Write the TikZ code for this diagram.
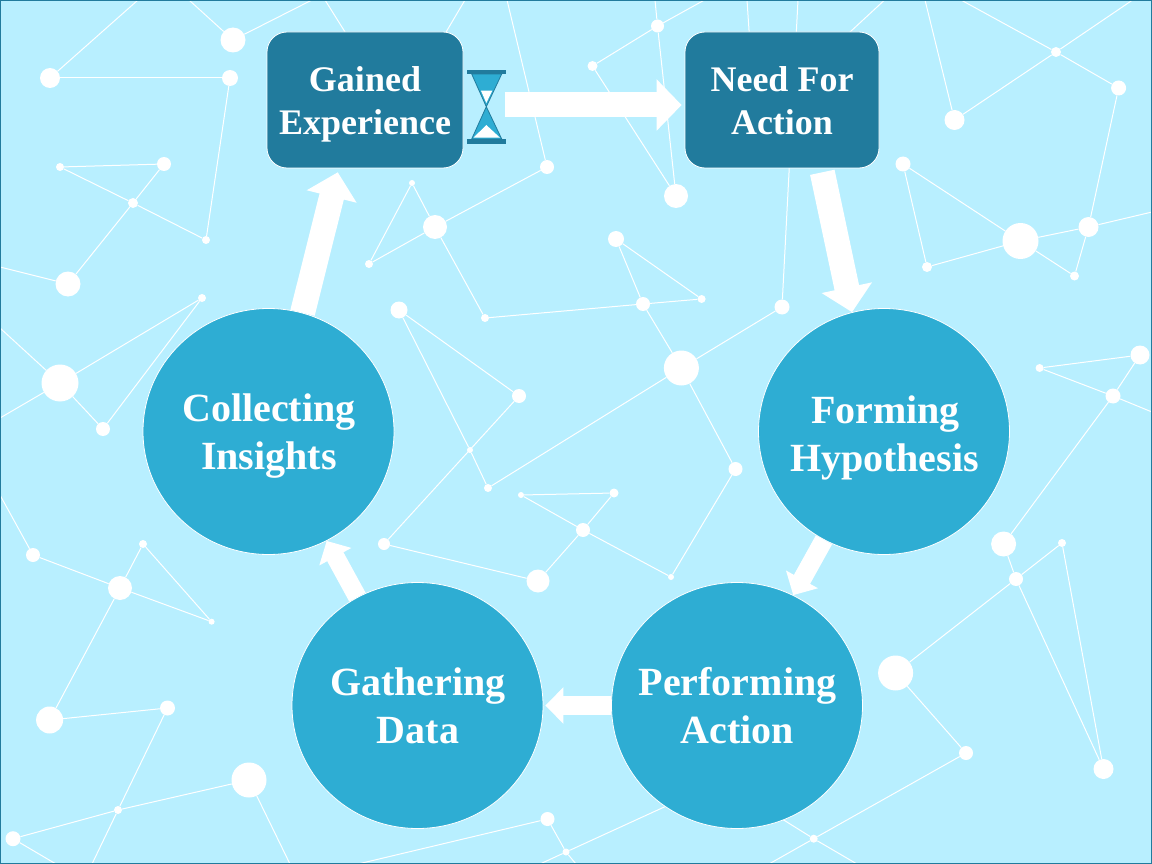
\documentclass[tikz,border=0pt]{standalone}
\usepackage{fontspec}
\setmainfont{Liberation Serif}
\usetikzlibrary{arrows.meta,shapes.geometric}
\definecolor{bgc}{HTML}{B8EFFF}
\definecolor{midc}{HTML}{2EADD3}
\definecolor{darkc}{HTML}{217B9D}
\tikzset{
  dot/.style={circle,fill=white,draw=none,inner sep=0pt},
  net/.style={draw=white,line width=1pt},
  bigcirc/.style={ellipse,fill=midc,draw=white,line width=0.8pt,minimum width=251pt,minimum height=246pt,inner sep=0pt},
  circtext/.style={text=white,align=center,inner sep=0pt,anchor=center,font=\fontsize{40}{48}\selectfont\bfseries},
  boxn/.style={rectangle,rounded corners=20pt,fill=darkc,draw=white,line width=0.8pt,minimum height=136pt,inner sep=0pt},
  boxtext/.style={text=white,align=center,inner sep=0pt,anchor=center,font=\fontsize{36}{43}\selectfont\bfseries},
  bigarrow/.style={draw=white,line width=25pt,-{Triangle[length=25pt,width=50pt,fill=white]}},
  smallarrow/.style={draw=white,line width=18.5pt,-{Triangle[length=18pt,width=35.5pt,fill=white]}},
}
\newcommand\dt[4]{\node[dot,minimum size=#4pt] (#1) at (#2,#3) {};}
\begin{document}
\begin{tikzpicture}[x=1pt,y=-1pt]
\useasboundingbox (0,0) rectangle (1152,864);
\fill[bgc] (0,0) rectangle (1152,864);
% free ends and hidden junctions
\foreach \n/\x/\y in {e1/138/0,e2/189/0,e3/312/0,e4/0/267,e5/0/328,e6/0/418,e7/507/0,
  e8/325/0,e9/465/0,e10/655/0,e11/704.5/0,e12/747/0,e13/798/0,e14/884.6/0,e15/925/0,e16/961/0,e17/1132.6/0,
  e18/1152/212,e19/1152/412,e20/769/864,e21/857/864,e22/0/495,e23/92/864,e24/56/864,e25/290/864,
  e26/358/864,e27/540/864,e28/576/864,h1/397/115,h2/755/120,h3/721/781}
  {\coordinate (\n) at (\x,\y);}
% network dots
\dt{A}{50}{78}{20}\dt{B}{233}{40}{25}\dt{C}{230}{78}{16}\dt{D}{60}{167}{8}\dt{E}{164}{164}{14}
\dt{F}{133}{203}{10}\dt{G}{206}{240}{8}\dt{H}{68}{284}{25}\dt{I}{202}{298}{8}\dt{J}{60}{383}{37}
\dt{K}{103}{429}{14}\dt{L}{399}{310}{17}\dt{M}{519}{396}{14}\dt{N}{485}{318}{8}\dt{O}{435}{227}{24}
\dt{P}{412}{183}{6}\dt{Q}{369}{264}{8}\dt{R}{547}{167}{14}\dt{S}{657.5}{26}{13}\dt{T}{592.5}{66}{10}
\dt{U}{676}{196}{24}\dt{W}{954.5}{120}{20}\dt{Y}{1056}{52}{10}\dt{Z}{1118.6}{88}{15}\dt{AA}{1088.5}{227}{20}
\dt{AB}{903}{164}{15}\dt{AC}{927}{267}{10}\dt{AD}{1020.5}{241}{36}\dt{AE}{1074.5}{276}{9}
\dt{AF}{616}{239}{16}\dt{AG}{643}{304}{14}\dt{AH}{701.6}{299}{8}\dt{AI}{681.4}{368}{35}\dt{AJ}{782}{307}{15}
\dt{AK}{1140}{355}{19}\dt{AL}{1039.6}{368}{8}\dt{AM}{1113}{396}{15}
\dt{BA}{470}{450}{6}\dt{BB}{488}{488}{8}\dt{BC}{384}{544}{12}\dt{BD}{538}{581}{23}\dt{BE}{521}{495}{6}
\dt{BF}{614}{493}{9}\dt{BG}{583}{530}{14}\dt{BH}{671}{577}{6}\dt{BI}{735.5}{469}{14}
\dt{CA}{1003.6}{544}{25}\dt{CB}{1016}{579}{14}\dt{CC}{1062}{543}{8}\dt{CD}{895.6}{673}{35}\dt{CE}{966}{753}{14}
\dt{CF}{1103.5}{769}{20}\dt{CG}{813.7}{838.7}{8}
\dt{DA}{33}{555}{14}\dt{DB}{120}{588}{24}\dt{DC}{143}{544}{8}\dt{DD}{211.6}{621.7}{6}\dt{DE}{49.6}{720}{27}
\dt{DF}{167.5}{708}{15}\dt{DG}{118}{810}{8}\dt{DH}{249}{780}{35}\dt{DI}{13}{838.7}{15}
\dt{DJ}{547.5}{819}{14}\dt{DK}{566}{852}{7}
% network lines
\foreach \p/\q in {A/e1,A/C,B/e2,B/e3,C/G,D/E,D/F,E/F,F/G,F/H,H/e4,J/I,J/K,K/I,J/e5,J/e6,
  O/P,O/Q,P/Q,O/N,O/R,R/e7,L/M,L/BA,BA/BB,M/BC,N/AG,e8/h1,e9/h1,
  S/e10,S/e11,S/T,S/U,T/U,e12/h2,e14/h2,e13/AJ,
  W/e15,W/Y,Y/Z,Y/e16,Y/e17,Z/AA,AB/AC,AB/AD,AC/AD,AD/AA,AD/AE,AE/AA,AA/e18,
  AF/AH,AF/AG,AG/AH,AG/AI,AI/AJ,AI/BB,AI/BI,AK/AL,AL/AM,AK/AM,AM/e19,AM/CA,
  BE/BF,BE/BG,BF/BG,BG/BH,BH/BI,BG/BD,BC/BD,
  CA/CB,CB/CC,CB/CF,CC/CF,CB/CD,CD/CE,CE/CG,CG/e20,CG/h3,CG/e21,DK/h3,
  DA/DB,DA/e22,DB/DC,DC/DD,DB/DD,DB/DE,DE/DF,DF/DG,DG/e23,DI/DG,DG/DH,DI/e24,DH/e25,
  DJ/e26,DJ/DK,DK/e27,DK/e28}
  {\draw[net] (\p) -- (\q);}
% main nodes
\node[boxn,minimum width=196pt] (gained) at (365,100) {};
\node[boxn,minimum width=194pt] (need) at (782,100) {};
\node[boxtext] (gainedt) at (365,104) {Gained\\Experience};
\node[boxtext] (needt) at (782,101) {Need For\\Action};
\node[bigcirc] (forming) at (884,431.5) {};
\node[bigcirc] (performing) at (737,705.5) {};
\node[bigcirc] (gathering) at (417.5,705.5) {};
\node[bigcirc] (collecting) at (268.5,431.5) {};
\node[circtext] (formingt) at (884.5,438) {\hspace*{2pt}Forming\\Hypothesis};
\node[circtext] (performingt) at (737.5,705.5) {Performing\\Action};
\node[circtext] (gatheringt) at (418,705.5) {Gathering\\Data};
\node[circtext] (collectingt) at (269,436) {Collecting\\Insights};
% hourglass
\node[inner sep=0pt,minimum width=37pt,minimum height=74pt] (glass) at (486,105) {};
\fill[midc,draw=darkc,line width=0.8pt] (471.7,74) -- (501.7,74) -- (486.3,106.7) -- (501.7,139) -- (471.7,139) -- (486.3,106.7) -- cycle;
\fill[white] (481,90.7) -- (492.3,90.7) -- (486.3,103) -- cycle;
\fill[white] (473.5,137.7) -- (500,137.7) -- (486.3,125) -- cycle;
\fill[darkc] (467,70) rectangle (506,74.3);
\fill[darkc] (467,138.7) rectangle (506,143.7);
% block arrows
\draw[bigarrow] (glass.east) -- ([xshift=-3pt,yshift=-5pt]need.west);
\draw[bigarrow,shorten <=4pt] (need.-60) -- (forming.105);
\draw[smallarrow] (forming.241) -- (performing.63);
\draw[smallarrow,shorten >=2pt] (performing.180) -- (gathering.0);
\draw[smallarrow] (gathering.119.4) -- (collecting.-62);
\draw[bigarrow,shorten >=4pt] (collecting.74.6) -- (gained.-111.7);
% frame
\draw[darkc,line width=1pt] (0.5,0.5) rectangle (1151.5,863.5);
\end{tikzpicture}
\end{document}
